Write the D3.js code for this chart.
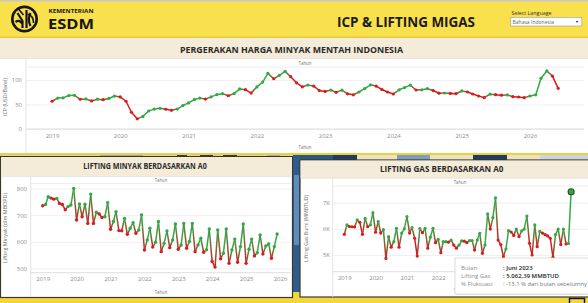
<!DOCTYPE html>
<html><head><meta charset="utf-8">
<script src="https://cdn.jsdelivr.net/npm/d3@7"></script>
<style>
html,body{margin:0;padding:0;background:#f5d942;overflow:hidden}
svg{display:block}
text{font-family:"Open Sans",Lato,sans-serif}
</style></head><body>
<svg id="c" width="588" height="303"></svg>
<script>
// ---------------- DATA ----------------
const yearTicks = [2019, 2020, 2021, 2022, 2023, 2024, 2025, 2026];
const startMonth = new Date(2019, 0, 1);

// ICP (USD/Barel), monthly Jan 2019 - Jun 2026
const icpValues = [
  56.6, 63.0, 63.6, 68.3, 68.7, 60.7, 61.3, 57.3, 60.8, 59.8, 62.3, 67.2,
  65.4, 56.6, 34.2, 20.7, 25.7, 36.7, 40.6, 42.2, 40.3, 38.1, 40.7, 47.9,
  53.2, 60.4, 63.0, 61.0, 65.5, 70.2, 72.1, 67.8, 72.2, 81.8, 80.2, 73.4,
  85.9, 95.7, 113.5, 102.5, 109.6, 117.6, 106.7, 94.2, 86.1, 89.8, 87.5, 78.5,
  76.7, 79.5, 74.8, 79.3, 71.8, 69.7, 75.5, 82.5, 90.2, 87.5, 80.6, 75.5,
  71.4, 80.0, 84.5, 89.5, 79.6, 80.0, 82.3, 78.5, 73.0, 73.5, 72.5, 72.0,
  77.6, 75.5, 71.4, 67.3, 64.0, 71.0, 70.0, 69.0, 69.5, 66.0, 65.3, 64.0,
  67.3, 69.8, 103.4, 118.4, 108.0, 83.0
];
const icpTicks = [0, 50, 100];

// Lifting minyak (MBOPD), monthly Jan 2019 - Dec 2025
const oilValues = [
  735, 740, 769, 764, 760, 763, 744, 740, 720, 732, 738, 800,
  682, 742, 694, 741, 669, 779, 669, 711, 704, 691, 694, 747,
  647, 676, 713, 642, 641, 688, 628, 651, 672, 632, 644, 701,
  569, 607, 651, 580, 598, 676, 563, 594, 641, 578, 607, 667,
  572, 588, 669, 576, 601, 669, 563, 588, 613, 561, 570, 648,
  526, 505, 644, 536, 557, 648, 519, 569, 610, 523, 582, 667,
  519, 572, 610, 547, 559, 626, 554, 584, 592, 538, 582, 629
];
const oilTicks = [500, 600, 700, 800];

// Lifting gas bumi (MMBTUD), monthly Jan 2019 - Apr 2026
const gasValues = [
  5790, 6150, 6090, 6080, 6070, 6340, 6250, 5790, 6400, 6080, 6150, 6620,
  5870, 6280, 5840, 5970, 4870, 5700, 5300, 5510, 6020, 5300, 5840, 6000,
  6470, 5840, 6050, 5640, 4960, 6010, 5850, 6020, 5260, 5680, 6020, 5470,
  5600, 5090, 5510, 5510, 5490, 5570, 5380, 5260, 5380, 5540, 5530, 5470,
  5550, 5550, 5190, 5570, 5827, 5062, 5380, 6570, 5990, 6430, 7190, 5570,
  5400, 4935, 5230, 5930, 5880, 5750, 5990, 5700, 5920, 5990, 6490, 5445,
  5000, 6150, 5320, 5900, 5840, 5780, 5730, 5640, 4910, 5780, 5990, 5400,
  5990, 5420, 5440, 7420
];
const gasTicks = [5000, 6000, 7000];
const gasTickLabels = ["5K", "6K", "7K"];
const gasVisibleYears = [2019, 2020, 2021, 2022]; // later years hidden under the tooltip

const tooltipLabels = ["Bulan", "Lifting Gas", "% Fluktuasi"];
const tooltipValues = [": Juni 2023", ": 5.062,39 MMBTUD", ": -13,1 % dari bulan sebelumny"];

// ---------------- STYLE ----------------
const GREEN = "#35a845", RED = "#d21f1f";
const YELLOW = "#f9e04d", BEIGE = "#f4ebd8";
const svg = d3.select("#c");
const defs = svg.append("defs");

// background pieces
svg.append("rect").attr("width", 588).attr("height", 303).attr("fill", "#f3d63c");
const strip = svg.append("g");
strip.append("rect").attr("x", 0).attr("y", 154).attr("width", 588).attr("height", 6).attr("fill", "#e9e2c4");
[[100, 43, "#9fb8d3"], [177, 10, "#1f3b66"], [200, 13, "#1f3b66"], [223, 14, "#1f3b66"], [267, 13, "#a9bfd8"],
 [293, 40, "#2a5685"], [333, 24, "#1f3b66"], [397, 33, "#7d9cc0"], [473, 34, "#1f3b66"], [540, 48, "#c9d6e4"]]
  .forEach(d => strip.append("rect").attr("x", d[0]).attr("y", 155).attr("width", d[1]).attr("height", 5).attr("fill", d[2]));
strip.append("rect").attr("x", 0).attr("y", 153).attr("width", 588).attr("height", 2).attr("fill", "#f0d03a");
svg.append("rect").attr("x", 293).attr("y", 156).attr("width", 7).attr("height", 140).attr("fill", "#2d5d8e");
svg.append("rect").attr("x", 294).attr("y", 175).attr("width", 5).attr("height", 70).attr("fill", "#5f8cbc");
svg.append("rect").attr("x", 293).attr("y", 292).attr("width", 7).attr("height", 11).attr("fill", "#f3d63c");

// ---------------- HEADER ----------------
svg.append("rect").attr("x", 0).attr("y", 0).attr("width", 588).attr("height", 37).attr("fill", YELLOW);
svg.append("rect").attr("x", 0).attr("y", 0).attr("width", 588).attr("height", 1.5).attr("fill", "#c8c8c8");
svg.append("rect").attr("x", 0).attr("y", 36.5).attr("width", 588).attr("height", 1.5).attr("fill", "#e6c93a");

// logo
const logo = svg.append("g").attr("transform", "translate(24.5,19)");
logo.append("circle").attr("r", 13.5).attr("fill", "#151515");
logo.append("circle").attr("r", 10.8).attr("fill", YELLOW);
logo.append("path").attr("d", "M-7,-6 L-2,2 L-2,9 M2,-9 L2,9 M6,-6 C4,-2 4,3 6,7 M-9,3 C-6,1 -4,2 -2,5")
  .attr("fill", "none").attr("stroke", "#151515").attr("stroke-width", 2.2);
logo.append("path").attr("d", "M-6,-10 L-1,-4 M3,-5 C7,-4 9,0 9,4").attr("fill", "none").attr("stroke", "#151515").attr("stroke-width", 1.6);

svg.append("text").attr("x", 48.5).attr("y", 12.6).attr("font-size", 5).attr("font-weight", 700)
  .attr("font-family", "'Liberation Sans', Arial, sans-serif")
  .attr("fill", "#151515").attr("textLength", 45).attr("lengthAdjust", "spacingAndGlyphs").text("KEMENTERIAN");
svg.append("text").attr("x", 48).attr("y", 28.5).attr("font-size", 15).attr("font-weight", 700)
  .attr("font-family", "'Liberation Sans', Arial, sans-serif")
  .attr("fill", "#151515").attr("textLength", 46).attr("lengthAdjust", "spacingAndGlyphs").text("ESDM");

svg.append("text").attr("x", 337).attr("y", 27.3).attr("font-size", 15).attr("font-weight", 700)
  .attr("fill", "#1b1b1b").attr("textLength", 138).attr("lengthAdjust", "spacingAndGlyphs").text("ICP & LIFTING MIGAS");

svg.append("text").attr("x", 511.5).attr("y", 14.6).attr("font-size", 5.2).attr("fill", "#333")
  .attr("textLength", 40).attr("lengthAdjust", "spacingAndGlyphs").text("Select Language");
svg.append("rect").attr("x", 510.8).attr("y", 17.3).attr("width", 71).attr("height", 8.7)
  .attr("fill", "#fff").attr("stroke", "#9a9a9a").attr("stroke-width", 0.6);
svg.append("text").attr("x", 512.5).attr("y", 23.8).attr("font-size", 5).attr("fill", "#666")
  .attr("textLength", 41.5).attr("lengthAdjust", "spacingAndGlyphs").text("Bahasa Indonesia");
svg.append("path").attr("d", "M575.6,21 L578.4,21 L577,22.8 Z").attr("fill", "#333");

// ---------------- CHART HELPER ----------------
let gradId = 0;
function drawChart(o) {
  const g = svg.append("g");
  const x = d3.scaleTime().domain([new Date(2019, 0, 1), new Date(2026, 0, 1)]).range(o.xRange);
  const y = d3.scaleLinear().domain(o.yDomain).range([o.pane.bottom, o.pane.top]);
  const dates = o.values.map((v, i) => d3.timeMonth.offset(startMonth, i));
  const pts = o.values.map((v, i) => ({ x: x(dates[i]), y: y(v), c: (i === 0 || v < o.values[i - 1]) ? RED : GREEN }));

  const grid = g.append("g").attr("transform", `translate(${o.pane.left},0)`)
    .call(d3.axisLeft(y).tickValues(o.yTicks).tickSize(-(o.pane.right - o.pane.left)).tickFormat(""));
  grid.select(".domain").remove();
  grid.selectAll("line").attr("stroke", "#ececec").attr("stroke-width", 0.8);
  g.append("line").attr("x1", o.pane.left).attr("x2", o.pane.right).attr("y1", o.pane.top).attr("y2", o.pane.top)
    .attr("stroke", "#e8e8e8").attr("stroke-width", 0.8);

  const ya = g.append("g").attr("transform", `translate(${o.yLabelX},0)`)
    .call(d3.axisLeft(y).tickValues(o.yTicks).tickSize(0).tickPadding(0).tickFormat(o.tickFormat || d3.format("d")));
  ya.select(".domain").remove();
  ya.selectAll("text").attr("font-size", 6).attr("fill", "#8d8d8d").attr("font-family", "Lato, sans-serif");

  const years = o.years || yearTicks;
  const xa = g.append("g").attr("transform", `translate(0,${o.xLabelY})`)
    .call(d3.axisBottom(x).tickValues(years.map(yr => new Date(yr, 0, 1))).tickSize(0).tickPadding(0).tickFormat(d3.timeFormat("%Y")));
  xa.select(".domain").remove();
  xa.selectAll("text").attr("font-size", 6).attr("fill", "#8d8d8d").attr("font-family", "Lato, sans-serif");

  g.append("line").attr("x1", o.pane.left).attr("x2", o.pane.right).attr("y1", o.pane.bottom).attr("y2", o.pane.bottom)
    .attr("stroke", "#d6d6d6").attr("stroke-width", 0.8);
  g.append("line").attr("x1", o.pane.left).attr("x2", o.pane.left).attr("y1", o.vline[0]).attr("y2", o.vline[1])
    .attr("stroke", "#dcdcdc").attr("stroke-width", 0.8);

  for (let i = 0; i < pts.length - 1; i++) {
    const a = pts[i], b = pts[i + 1];
    const id = "gr" + (gradId++);
    const lg = defs.append("linearGradient").attr("id", id).attr("gradientUnits", "userSpaceOnUse")
      .attr("x1", a.x).attr("y1", a.y).attr("x2", b.x).attr("y2", b.y);
    lg.append("stop").attr("offset", "0%").attr("stop-color", a.c);
    lg.append("stop").attr("offset", "100%").attr("stop-color", b.c);
    g.append("line").attr("x1", a.x).attr("y1", a.y).attr("x2", b.x).attr("y2", b.y)
      .attr("stroke", a.c === b.c ? a.c : `url(#${id})`).attr("stroke-width", o.lw || 1.5).attr("stroke-linecap", "round");
  }
  g.selectAll("circle.pt").data(pts).join("circle").attr("class", "pt")
    .attr("cx", d => d.x).attr("cy", d => d.y).attr("r", o.r || 1.6).attr("fill", d => d.c);
  return { g, x, y, pts };
}

function panelTitle(txt, cx, baseline, size, len) {
  svg.append("text").attr("x", cx).attr("y", baseline).attr("text-anchor", "middle").attr("font-size", size)
    .attr("font-weight", 700).attr("fill", "#2a2a2a").attr("textLength", len).attr("lengthAdjust", "spacingAndGlyphs").text(txt);
}
function smallLabel(txt, cx, baseline, len, rot) {
  const t = svg.append("text").attr("text-anchor", "middle").attr("font-size", 5.4).attr("fill", "#6f6f6f")
    .attr("textLength", len).attr("lengthAdjust", "spacingAndGlyphs").text(txt);
  if (rot) t.attr("transform", `translate(${cx},${baseline}) rotate(-90)`);
  else t.attr("x", cx).attr("y", baseline);
  return t;
}

// ---------------- PANEL 1: ICP ----------------
svg.append("rect").attr("x", 0).attr("y", 38).attr("width", 588).attr("height", 115).attr("fill", "#fff");
svg.append("rect").attr("x", 0).attr("y", 38).attr("width", 588).attr("height", 20.5).attr("fill", BEIGE);
svg.append("line").attr("x1", 0).attr("x2", 588).attr("y1", 58.5).attr("y2", 58.5).attr("stroke", "#e2e2e2").attr("stroke-width", 0.8);
panelTitle("PERGERAKAN HARGA MINYAK MENTAH INDONESIA", 291.5, 52.7, 9.5, 223);
smallLabel("Tahun", 305, 64.6, 13);
smallLabel("Tahun", 305, 148.5, 13);
smallLabel("ICP (USD/Barel)", 7.2, 97, 38, true);
drawChart({
  values: icpValues, xRange: [52, 530], yDomain: [0, 126.5], yTicks: icpTicks,
  pane: { left: 26, right: 584, top: 67, bottom: 129 }, yLabelX: 22, xLabelY: 134, vline: [58.5, 153], r: 1.6
});

// ---------------- PANEL 2: LIFTING MINYAK ----------------
svg.append("rect").attr("x", 0.5).attr("y", 156.5).attr("width", 292).attr("height", 141).attr("fill", "#fff")
  .attr("stroke", "#3a3826").attr("stroke-width", 1.2);
svg.append("rect").attr("x", 1.1).attr("y", 157.1).attr("width", 290.8).attr("height", 19.5).attr("fill", BEIGE);
svg.append("line").attr("x1", 1).attr("x2", 292).attr("y1", 176.7).attr("y2", 176.7).attr("stroke", "#e2e2e2").attr("stroke-width", 0.8);
panelTitle("LIFTING MINYAK BERDASARKAN A0", 145, 169.3, 8.3, 123.4);
smallLabel("Tahun", 161, 181.8, 12.5);
smallLabel("Tahun", 161, 293.5, 12.5);
smallLabel("Lifting Minyak (dlm MBOPD)", 7.2, 228, 70, true);
drawChart({
  values: oilValues, xRange: [42.7, 280], yDomain: [484, 818.7], yTicks: oilTicks,
  pane: { left: 30.7, right: 291, top: 183.5, bottom: 272.7 }, yLabelX: 27, xLabelY: 277, vline: [176.7, 297], r: 1.7
});

// ---------------- PANEL 3: LIFTING GAS ----------------
svg.append("rect").attr("x", 300).attr("y", 160).attr("width", 292).attr("height", 137).attr("fill", "#fff")
  .attr("stroke", "#3a3826").attr("stroke-width", 1.2);
svg.append("rect").attr("x", 300.6).attr("y", 160.6).attr("width", 290).attr("height", 17.6).attr("fill", BEIGE);
svg.append("line").attr("x1", 301).attr("x2", 588).attr("y1", 178.3).attr("y2", 178.3).attr("stroke", "#e2e2e2").attr("stroke-width", 0.8);
panelTitle("LIFTING GAS BERDASARKAN A0", 441.7, 171.6, 8.5, 123.3);
smallLabel("Tahun", 460, 184.4, 12.5);
// bottom "Tahun" is mostly covered by the tooltip: only its left part shows
defs.append("clipPath").attr("id", "ttclip").append("rect").attr("x", 440).attr("y", 280).attr("width", 14.5).attr("height", 20);
smallLabel("Tahun", 460, 291.5, 12.5).attr("clip-path", "url(#ttclip)");
smallLabel("Lifting Gas Bumi (MMBTUD)", 308.3, 228.5, 67, true);
const gas = drawChart({
  values: gasValues, xRange: [344.3, 563.4], yDomain: [4361, 7639], yTicks: gasTicks,
  tickFormat: (d, i) => gasTickLabels[i], years: gasVisibleYears,
  pane: { left: 332.7, right: 588, top: 186, bottom: 271.7 }, yLabelX: 330, xLabelY: 275.5, vline: [178.3, 297], r: 1.6
});
const last = gas.pts[gas.pts.length - 1];
svg.append("circle").attr("cx", last.x).attr("cy", last.y).attr("r", 3).attr("fill", GREEN)
  .attr("stroke", "#1d4d26").attr("stroke-width", 1.1);

// tooltip
const tt = svg.append("g");
tt.append("rect").attr("x", 456).attr("y", 259).attr("width", 140).attr("height", 36).attr("fill", "#000").attr("opacity", 0.08);
tt.append("rect").attr("x", 455).attr("y", 258).attr("width", 140).attr("height", 36).attr("fill", "#fff")
  .attr("stroke", "#cfcfcf").attr("stroke-width", 0.7);
tooltipLabels.forEach((l, i) => {
  tt.append("text").attr("x", 461).attr("y", 270.3 + i * 7.8).attr("font-size", 6).attr("fill", "#8a8a8a").text(l);
  tt.append("text").attr("x", 503).attr("y", 270.3 + i * 7.8).attr("font-size", 6)
    .attr("fill", i === 2 ? "#777" : "#222").attr("font-weight", i === 2 ? 400 : 600)
    .attr("textLength", i === 2 ? 84 : null).attr("lengthAdjust", "spacingAndGlyphs").text(tooltipValues[i]);
});

// bottom-right icon
svg.append("rect").attr("x", 569.5).attr("y", 298.5).attr("width", 15).attr("height", 8)
  .attr("fill", "none").attr("stroke", "#111").attr("stroke-width", 1.4);
</script>
</body></html>
